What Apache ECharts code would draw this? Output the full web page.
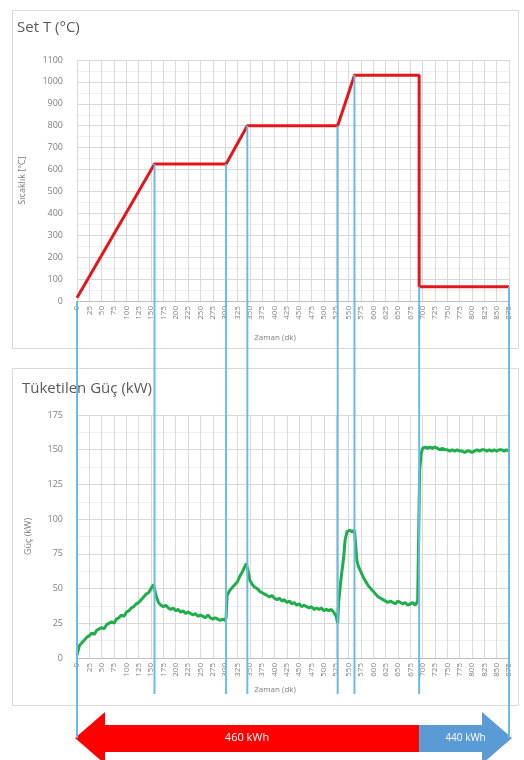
<!DOCTYPE html>
<html>
<head>
<meta charset="utf-8">
<script src="https://cdn.jsdelivr.net/npm/echarts@6/dist/echarts.min.js"></script>
<style>
  html, body { margin: 0; padding: 0; background: #fff; }
  #chart { width: 524px; height: 760px; }
</style>
</head>
<body>
<div id="chart"></div>
<script>
// set temperature profile (min, °C)
const tempTimes  = [0, 157, 302, 345, 528, 562, 693, 693, 875]
const tempValues = [15, 625, 625, 800, 800, 1030, 1030, 65, 65]

// consumed power (min, kW)
const powerTimes = [
  0, 5, 10, 15, 20, 25, 30, 35, 40, 45, 50, 55, 60, 65, 70, 75, 80, 85, 90, 95,
  100, 105, 110, 115, 120, 125, 130, 135, 140, 145, 150, 155, 157,
  160, 165, 170, 175, 180, 185, 190, 195, 200, 205, 210, 215, 220, 225, 230, 235,
  240, 245, 250, 255, 260, 265, 270, 275, 280, 285, 290, 295, 300,
  302, 304, 310, 315, 320, 325, 330, 335, 340, 343, 347, 350, 355, 360, 365, 370,
  375, 380, 385, 390, 395, 400, 405, 410, 415, 420, 425, 430, 435, 440, 445, 450,
  455, 460, 465, 470, 475, 480, 485, 490, 495, 500, 505, 510, 515, 520, 525, 528,
  530, 535, 540, 543, 547, 552, 557, 562, 565, 567, 570, 575, 580, 585, 590, 595,
  600, 605, 610, 615, 620, 625, 630, 635, 640, 645, 650, 655, 660, 665, 670, 675,
  680, 685, 690, 692,
  694, 697, 700, 705, 710, 715, 720, 725, 730, 735, 740, 745, 750, 755, 760, 765,
  770, 775, 780, 785, 790, 795, 800, 805, 810, 815, 820, 825, 830, 835, 840, 845,
  850, 855, 860, 865, 870, 875
]
const powerValues = [
  2, 9, 11, 13, 15, 16, 18, 17, 20, 21, 22, 21, 24, 25, 26, 25, 28, 29, 31, 30,
  33, 34, 36, 37, 39, 40, 42, 44, 46, 47, 50, 53, 54,
  45, 40, 38, 37, 38, 36, 35, 36, 34, 35, 33, 34, 32, 33, 32, 31,
  32, 30, 31, 30, 29, 31, 29, 28, 29, 28, 27, 28, 27,
  29, 45, 49, 51, 53, 55, 59, 62, 66, 68, 62, 56, 53, 51, 50, 48,
  47, 46, 45, 44, 45, 43, 42, 43, 41, 42, 40, 41, 39, 40, 38, 39,
  37, 38, 37, 36, 37, 35, 36, 35, 36, 34, 35, 34, 35, 33, 30, 25,
  40, 58, 72, 85, 91, 92, 91, 92, 91, 70, 66, 62, 58, 55, 52, 50,
  48, 46, 44, 43, 42, 41, 40, 41, 40, 39, 41, 40, 39, 40, 38, 39,
  40, 38, 41, 40,
  135, 147, 151, 152, 151, 152, 151, 152, 151, 150, 151, 150, 150, 149, 150, 149,
  150, 149, 149, 148, 149, 149, 148, 149, 150, 149, 150, 150, 149, 150, 149, 150,
  149, 150, 150, 149, 150, 149
]

// phase boundaries (min) and where each marker line starts on the temperature chart
const markerTimes = [0, 157, 302, 345, 528, 562, 693, 875]
const markerTemps = [0, 625, 625, 800, 800, 1030, 65, 65]

// energy split shown on the arrow
const energyLabels = ['460 kWh', '440 kWh']
const energySplitTime = 693

const FONT = '"Open Sans", sans-serif'
const GRAY = '#7f7f7f'
const GRID_LINE = '#d9d9d9'

const chart = echarts.init(document.getElementById('chart'), null, { renderer: 'canvas' })

function xAxisCfg(gridIndex) {
  return {
    gridIndex, type: 'value', min: 0, max: 875, interval: 25,
    axisLine: { show: true, lineStyle: { color: '#bfbfbf' } },
    axisTick: { show: false },
    axisLabel: { rotate: 90, color: GRAY, fontSize: 8, fontFamily: FONT, margin: 5, formatter: v => String(v) },
    splitLine: { show: true, lineStyle: { color: GRID_LINE, width: 1 } },
  }
}

function yAxisCfg(gridIndex, max, interval, name, gap) {
  return {
    gridIndex, type: 'value', min: 0, max, interval,
    name, nameLocation: 'middle', nameGap: gap, nameRotate: 90,
    nameTextStyle: { color: GRAY, fontSize: 9, fontFamily: FONT },
    axisLine: { show: false }, axisTick: { show: false },
    axisLabel: { color: GRAY, fontSize: 9, fontFamily: FONT, margin: 14, formatter: v => String(v) },
    splitLine: { lineStyle: { color: GRID_LINE } },
    minorTick: { show: false, splitNumber: 2 },
    minorSplitLine: { show: true, lineStyle: { color: '#efefef' } },
  }
}

const option = {
  backgroundColor: '#fff',
  animation: false,
  grid: [
    { left: 77, right: 15, top: 60, height: 241 },
    { left: 77, right: 15, top: 415, height: 243 },
  ],
  xAxis: [xAxisCfg(0), xAxisCfg(1)],
  yAxis: [
    yAxisCfg(0, 1100, 100, 'Sıcaklık [°C]', 50),
    yAxisCfg(1, 175, 25, 'Güç (kW)', 44),
  ],
  series: [
    {
      type: 'line', xAxisIndex: 0, yAxisIndex: 0, symbol: 'none',
      data: tempTimes.map((t, i) => [t, tempValues[i]]),
      lineStyle: { color: '#e3161b', width: 3 },
      z: 3,
    },
    {
      type: 'line', xAxisIndex: 1, yAxisIndex: 1, symbol: 'none',
      data: powerTimes.map((t, i) => [t, powerValues[i]]),
      lineStyle: { color: '#1fae4b', width: 3 },
      z: 3,
    },
  ],
}
chart.setOption(option)

// overlay: panels, titles, phase lines and the energy arrow
const px = (g, t, v) => chart.convertToPixel({ gridIndex: g }, [t, v])
const graphics = []

graphics.push(
  { type: 'rect', shape: { x: 12.5, y: 10.5, width: 506, height: 338 }, style: { fill: 'none', stroke: '#d9d9d9', lineWidth: 1 }, z: -1 },
  { type: 'rect', shape: { x: 12.5, y: 368.5, width: 506, height: 337 }, style: { fill: 'none', stroke: '#d9d9d9', lineWidth: 1 }, z: -1 },
  { type: 'text', x: 17, y: 20, style: { text: 'Set T (°C)', fill: '#595959', font: `15px ${FONT}` } },
  { type: 'text', x: 22, y: 381, style: { text: 'Tüketilen Güç (kW)', fill: '#595959', font: `15px ${FONT}` } },
  { type: 'text', x: 275, y: 338, style: { text: 'Zaman (dk)', fill: GRAY, font: `8px ${FONT}`, align: 'center', verticalAlign: 'middle' } },
  { type: 'text', x: 275, y: 690, style: { text: 'Zaman (dk)', fill: GRAY, font: `8px ${FONT}`, align: 'center', verticalAlign: 'middle' } },
)

const arrowY = 738
markerTimes.forEach((t, i) => {
  const top = px(0, t, markerTemps[i])
  const isEdge = i === 0 || i === markerTimes.length - 1
  graphics.push({
    type: 'line', z: 50,
    shape: { x1: top[0], y1: top[1], x2: top[0], y2: isEdge ? arrowY : 694 },
    style: { stroke: '#6cbbe6', lineWidth: 2 },
  })
})

const xStart = px(1, 0, 0)[0] - 2
const xSplit = px(1, energySplitTime, 0)[0]
const xEnd = px(1, 875, 0)[0] + 3
const headW = 30, headTop = 712, headBot = 764, bodyTop = 725, bodyBot = 752
graphics.push(
  {
    type: 'polygon', z: 40,
    shape: { points: [[xStart, arrowY], [xStart + headW, headTop], [xStart + headW, bodyTop], [xSplit, bodyTop], [xSplit, bodyBot], [xStart + headW, bodyBot], [xStart + headW, headBot]] },
    style: { fill: '#ff0000' },
  },
  {
    type: 'polygon', z: 40,
    shape: { points: [[xSplit, bodyTop], [xEnd - headW, bodyTop], [xEnd - headW, headTop], [xEnd, arrowY], [xEnd - headW, headBot], [xEnd - headW, bodyBot], [xSplit, bodyBot]] },
    style: { fill: '#5b9bd5' },
  },
  { type: 'text', z: 60, x: (xStart + xSplit) / 2, y: arrowY, style: { text: energyLabels[0], fill: '#fff', font: `11px ${FONT}`, align: 'center', verticalAlign: 'middle' } },
  { type: 'text', z: 60, x: (xSplit + xEnd) / 2, y: arrowY, style: { text: energyLabels[1], fill: '#fff', font: `10px ${FONT}`, align: 'center', verticalAlign: 'middle' } },
)

chart.setOption({ graphic: { elements: graphics } })
</script>
</body>
</html>
